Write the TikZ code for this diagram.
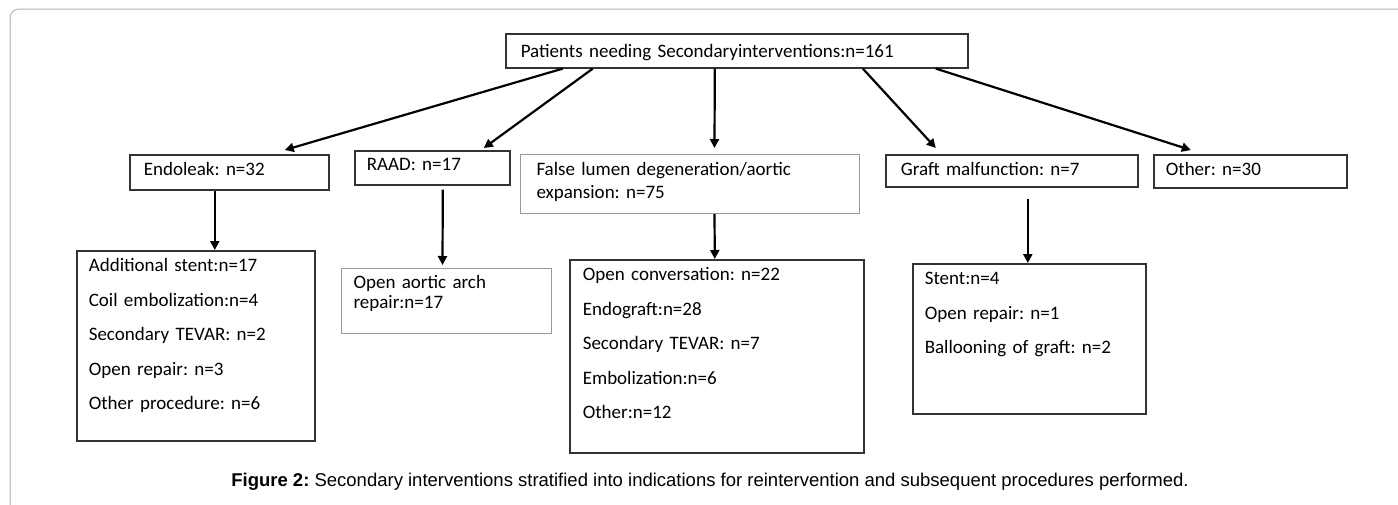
\documentclass[tikz,border=0pt]{standalone}
\usepackage{fontspec}
\setmainfont{Liberation Sans}
\newfontfamily\boxfont{Carlito}
\usetikzlibrary{arrows.meta}
\frenchspacing

\begin{document}
\begin{tikzpicture}[
    x=1pt, y=-1pt,
    box/.style = {draw=black!80, line width=1.6pt, anchor=north west, align=left,
                  inner ysep=0pt, font=\boxfont\fontsize{19}{23}\selectfont},
    thinbox/.style = {box, draw=black!40, line width=1pt},
    listbox/.style = {box, font=\boxfont\fontsize{19}{34.5}\selectfont},
    conn/.style = {draw, line width=2.2pt, -{Triangle[length=9pt,width=9pt]}},
  ]
  \useasboundingbox (0,0) rectangle (1398,504);
  % page frame
  \draw[black!30, line width=1pt, rounded corners=9pt] (1420,9) -- (10,9) -- (10,530);

  % root
  \node[box, inner xsep=15pt, text width=432pt, text height=24pt, text depth=10pt] (top) at (505,33)
    {Patients needing Secondaryinterventions:n=161};

  % indications
  \node[box, inner xsep=14pt, text width=171pt, text height=21pt, text depth=14pt] (endo) at (129,154)
    {Endoleak: n=32};
  \node[box, inner xsep=12pt, text width=131pt, text height=20pt, text depth=14pt] (raad) at (354,150)
    {RAAD: n=17};
  \node[thinbox, inner xsep=16pt, text width=307pt, text height=21pt, text depth=38pt] (flumen) at (520,154)
    {False lumen degeneration/aortic\\expansion: n=75};
  \node[box, inner xsep=15pt, text width=222pt, text height=21pt, text depth=11pt] (graft) at (885,154)
    {Graft malfunction: n=7};
  \node[box, inner xsep=12pt, text width=169pt, text height=21pt, text depth=12pt] (other) at (1153,154)
    {Other: n=30};

  % procedures
  \node[listbox, inner xsep=12pt, text width=214pt, text height=21pt, text depth=169pt] (endokids) at (76,250)
    {Additional stent:n=17\\Coil embolization:n=4\\Secondary TEVAR: n=2\\Open repair: n=3\\Other procedure: n=6};
  \node[thinbox, font=\boxfont\fontsize{19}{20}\selectfont, inner xsep=12pt, text width=186pt,
        text height=20pt, text depth=45pt] (raadkid) at (341,268)
    {Open aortic arch\\repair:n=17};
  \node[listbox, inner xsep=13pt, text width=268pt, text height=21pt, text depth=172pt] (flkids) at (569,259)
    {Open conversation: n=22\\Endograft:n=28\\Secondary TEVAR: n=7\\Embolization:n=6\\Other:n=12};
  \node[listbox, inner xsep=12pt, text width=209pt, text height=21pt, text depth=129pt] (graftkids) at (912,263)
    {Stent:n=4\\Open repair: n=1\\Ballooning of graft: n=2};

  % connectors
  \draw[conn] ([xshift=-174pt]top.south) -- ([xshift=55.5pt,yshift=4pt]endo.north);
  \draw[conn] ([xshift=-144pt]top.south) -- ([xshift=51.5pt,yshift=2pt]raad.north);
  \draw[conn] ([xshift=-22pt]top.south) -- ([xshift=24.5pt,yshift=6pt]flumen.north);
  \draw[conn] ([xshift=126pt]top.south) -- ([xshift=-76pt,yshift=6pt]graft.north);
  \draw[conn] ([xshift=199pt]top.south) -- ([xshift=-59.5pt,yshift=4pt]other.north);

  \draw[conn] ([xshift=-14.5pt]endo.south) -- ([xshift=19pt]endokids.north);
  \draw[conn] ([xshift=10.5pt,yshift=-4pt]raad.south) -- ([xshift=-4pt,yshift=3pt]raadkid.north);
  \draw[conn] ([xshift=24.5pt]flumen.south) -- ([xshift=-2pt]flkids.north);
  \draw[conn] ([xshift=16pt,yshift=-11pt]graft.south) -- ([xshift=-1.5pt]graftkids.north);

  % caption
  \node[font=\fontsize{18.5}{22}\selectfont] (caption) at (710,482)
    {\textbf{Figure 2:} Secondary interventions stratified into indications for reintervention and subsequent procedures performed.};
\end{tikzpicture}
\end{document}
